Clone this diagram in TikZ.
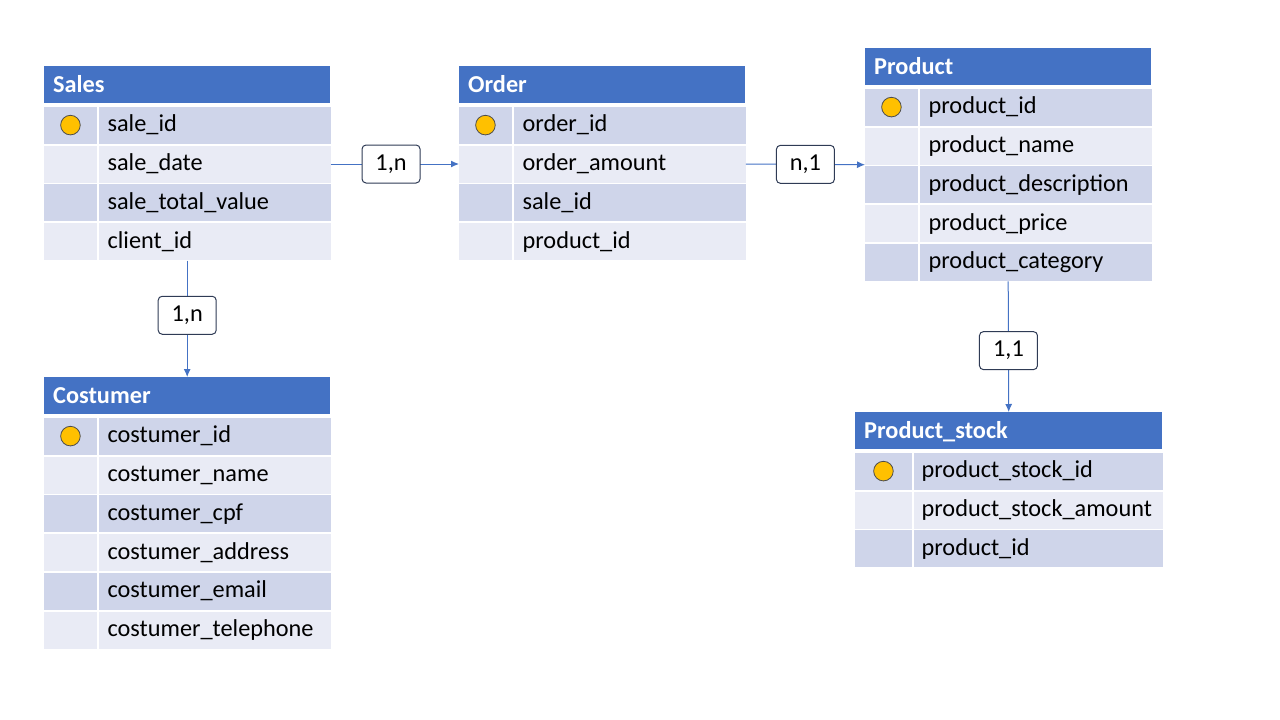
\documentclass[tikz,border=0pt]{standalone}
\usepackage{fontspec}
\setmainfont{Carlito}
\usetikzlibrary{positioning,arrows.meta}
\definecolor{hdrblue}{HTML}{4472C4}
\definecolor{rowdark}{HTML}{CFD5EA}
\definecolor{rowlight}{HTML}{E9EBF5}
\definecolor{keygold}{HTML}{FFC000}
\definecolor{cardline}{HTML}{2F3B55}

\begin{document}
\begin{tikzpicture}[x=1pt, y=-1pt, >={Latex[length=8pt,width=7pt]},
  font=\fontsize{24.3}{29}\selectfont,
  head/.style={fill=hdrblue, text=white, font=\fontsize{24.3}{29}\selectfont\bfseries,
               anchor=north west, align=left, text width=#1, inner xsep=9pt,
               inner ysep=2pt, minimum height=37pt, text height=20pt, text depth=5pt},
  keyd/.style={fill=rowdark, minimum width=#1, minimum height=37pt, inner sep=0pt},
  keyd/.default=52.5pt,
  keyl/.style={keyd=#1, fill=rowlight},
  keyl/.default=52.5pt,
  pk/.style={keyd=#1, path picture={\filldraw[fill=keygold, draw=black!70, line width=0.8pt]
             (path picture bounding box.center) circle (9.8pt);}},
  pk/.default=52.5pt,
  cold/.style={fill=rowdark, align=left, text width=#1, inner xsep=9pt, inner ysep=2pt,
               minimum height=37pt, text height=18pt, text depth=5.5pt},
  cold/.default=214pt,
  coll/.style={cold=#1, fill=rowlight},
  coll/.default=214pt,
  card/.style={draw=cardline, fill=white, rounded corners=4pt, line width=1pt,
               minimum width=58pt, minimum height=38pt, inner sep=0pt,
               text height=18pt, text depth=5.5pt},
  link/.style={draw=hdrblue, line width=1pt, ->}]

\useasboundingbox (0,0) rectangle (1280,720);

% Sales
\node[head=268pt] (sales) at (44,66) {Sales};
\node[pk, below=3pt of sales.south west, anchor=north west] (salesk1) {};
\node[cold, right=1.5pt of salesk1] (sales-1) {sale\_id};
\node[keyl, below=1.5pt of salesk1] (salesk2) {};
\node[coll, right=1.5pt of salesk2] (sales-2) {sale\_date};
\node[keyd, below=1.5pt of salesk2] (salesk3) {};
\node[cold, right=1.5pt of salesk3] (sales-3) {sale\_total\_value};
\node[keyl, below=1.5pt of salesk3] (salesk4) {};
\node[coll, right=1.5pt of salesk4] (sales-4) {client\_id};

% Order
\node[head=268pt] (order) at (459,66) {Order};
\node[pk, below=3pt of order.south west, anchor=north west] (orderk1) {};
\node[cold, right=1.5pt of orderk1] (order-1) {order\_id};
\node[keyl, below=1.5pt of orderk1] (orderk2) {};
\node[coll, right=1.5pt of orderk2] (order-2) {order\_amount};
\node[keyd, below=1.5pt of orderk2] (orderk3) {};
\node[cold, right=1.5pt of orderk3] (order-3) {sale\_id};
\node[keyl, below=1.5pt of orderk3] (orderk4) {};
\node[coll, right=1.5pt of orderk4] (order-4) {product\_id};

% Product
\node[head=268pt] (product) at (865,48) {Product};
\node[pk, below=3pt of product.south west, anchor=north west] (productk1) {};
\node[cold, right=1.5pt of productk1] (product-1) {product\_id};
\node[keyl, below=1.5pt of productk1] (productk2) {};
\node[coll, right=1.5pt of productk2] (product-2) {product\_name};
\node[keyd, below=1.5pt of productk2] (productk3) {};
\node[cold, right=1.5pt of productk3] (product-3) {product\_description};
\node[keyl, below=1.5pt of productk3] (productk4) {};
\node[coll, right=1.5pt of productk4] (product-4) {product\_price};
\node[keyd, below=1.5pt of productk4] (productk5) {};
\node[cold, right=1.5pt of productk5] (product-5) {product\_category};

% Costumer
\node[head=268pt] (costumer) at (44,377) {Costumer};
\node[pk, below=3pt of costumer.south west, anchor=north west] (costumerk1) {};
\node[cold, right=1.5pt of costumerk1] (costumer-1) {costumer\_id};
\node[keyl, below=1.5pt of costumerk1] (costumerk2) {};
\node[coll, right=1.5pt of costumerk2] (costumer-2) {costumer\_name};
\node[keyd, below=1.5pt of costumerk2] (costumerk3) {};
\node[cold, right=1.5pt of costumerk3] (costumer-3) {costumer\_cpf};
\node[keyl, below=1.5pt of costumerk3] (costumerk4) {};
\node[coll, right=1.5pt of costumerk4] (costumer-4) {costumer\_address};
\node[keyd, below=1.5pt of costumerk4] (costumerk5) {};
\node[cold, right=1.5pt of costumerk5] (costumer-5) {costumer\_email};
\node[keyl, below=1.5pt of costumerk5] (costumerk6) {};
\node[coll, right=1.5pt of costumerk6] (costumer-6) {costumer\_telephone};

% Product_stock
\node[head=289pt] (stock) at (855,412) {Product\_stock};
\node[pk=56.5pt, below=3pt of stock.south west, anchor=north west] (stockk1) {};
\node[cold=233pt, inner xsep=8pt, right=1.5pt of stockk1] (stock-1) {product\_stock\_id};
\node[keyl=56.5pt, below=1.5pt of stockk1] (stockk2) {};
\node[coll=233pt, inner xsep=8pt, right=1.5pt of stockk2] (stock-2) {product\_stock\_amount};
\node[keyd=56.5pt, below=1.5pt of stockk2] (stockk3) {};
\node[cold=233pt, inner xsep=8pt, right=1.5pt of stockk3] (stock-3) {product\_id};

% Beziehungen
\draw[link] (sales-2.east) -- node[card, pos=0.47] (salesorder) {1,n} (orderk2.west);
\draw[link] (order-2.east) -- node[card] (orderproduct) {n,1} (productk2.south west);
\draw[link] (sales.south |- sales-4.south) -- node[card, pos=0.47] (salescostumer) {1,n} (costumer.north);
\draw[link] (product.south |- product-5.south) -- node[card, pos=0.53] (productstock) {1,1} (stock.north);
\end{tikzpicture}
\end{document}
